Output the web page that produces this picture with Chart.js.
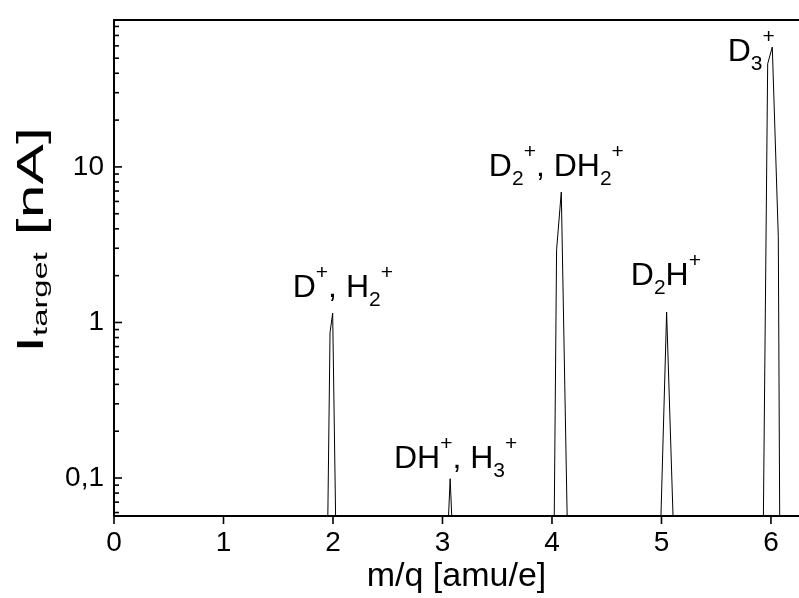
<!DOCTYPE html>
<html><head><meta charset="utf-8">
<script src="https://cdn.jsdelivr.net/npm/chart.js@4.4.1/dist/chart.umd.min.js"></script>
<style>html,body{margin:0;padding:0;background:#fff}canvas{display:block}</style>
</head><body>
<canvas id="c" width="799" height="598"></canvas>
<script>
const FONT = '"Liberation Sans", Arial, Helvetica, sans-serif';

// ---- data ----
const massX = [0.00, 1.952, 1.973, 1.997, 2.025, 3.052, 3.070, 3.088, 4.020, 4.042, 4.085, 4.140,
               4.993, 5.047, 5.108, 5.930, 5.970, 6.012, 6.067, 6.080, 6.26];
const currentNA = [0.01, 0.05, 0.86, 1.15, 0.05, 0.05, 0.099, 0.05, 0.05, 2.93, 6.9, 0.05,
                   0.05, 1.166, 0.05, 0.05, 46, 59, 3.56, 0.05, 0.01];

const xTickValues = [0, 1, 2, 3, 4, 5, 6];
const yTickValues = [0.1, 1, 10];
const yTickText = ['0,1', '1', '10'];

const ionLabels = ['D^+, H_2^+', 'DH^+, H_3^+', 'D_2^+, DH_2^+', 'D_2H^+', 'D_3^+'];
const ionLabelX = [2.09, 3.12, 4.04, 5.04, 5.82];
const ionLabelY = [1.46, 0.116, 8.7, 1.74, 48];

const xTitle = 'm/q [amu/e]';
const yTitle = 'I_{target} [nA]';

const X_MIN = 0, X_MAX = 6.256, Y_MIN = 0.057, Y_MAX = 88;

// parse simple markup: ^x superscript char, _x subscript char, _{...} subscript group
function parseRich(s) {
  const parts = [];
  let i = 0, buf = '';
  const flush = () => { if (buf) { parts.push({t: buf, m: 'n'}); buf = ''; } };
  while (i < s.length) {
    const c = s[i];
    if (c === '^' || c === '_') {
      flush();
      let t;
      if (s[i + 1] === '{') { const j = s.indexOf('}', i); t = s.slice(i + 2, j); i = j + 1; }
      else { t = s[i + 1]; i += 2; }
      parts.push({t, m: c === '^' ? 'sup' : 'sub'});
    } else { buf += c; i++; }
  }
  flush();
  return parts;
}

function drawRich(ctx, s, x, y, size, small, subDy, supDy) {
  const parts = parseRich(s);
  const fontOf = m => (m === 'n' ? size : small) + 'px ' + FONT;
  let w = 0;
  parts.forEach(p => { ctx.font = fontOf(p.m); p.w = ctx.measureText(p.t).width; w += p.w; });
  let cx = x - w / 2;
  ctx.textAlign = 'left';
  ctx.textBaseline = 'alphabetic';
  parts.forEach(p => {
    ctx.font = fontOf(p.m);
    const dy = p.m === 'sup' ? supDy : (p.m === 'sub' ? subDy : 0);
    ctx.fillText(p.t, cx, y + dy);
    cx += p.w;
  });
  return w;
}

const decorPlugin = {
  id: 'decor',
  afterDatasetsDraw(chart) {
    const {ctx, chartArea: a, scales: {x, y}} = chart;
    ctx.save();
    ctx.strokeStyle = '#000';
    ctx.fillStyle = '#000';
    // y ticks (inward), major and minor
    ctx.lineWidth = 1.6;
    for (let e = Math.floor(Math.log10(Y_MIN)); e <= Math.ceil(Math.log10(Y_MAX)); e++) {
      for (let m = 1; m <= 9; m++) {
        const v = m * Math.pow(10, e);
        if (v < Y_MIN || v > Y_MAX) continue;
        const py = y.getPixelForValue(v);
        ctx.beginPath();
        ctx.moveTo(a.left, py);
        ctx.lineTo(a.left + (m === 1 ? 8 : 5), py);
        ctx.stroke();
      }
    }
    // x ticks (outward)
    xTickValues.forEach(v => {
      const px = x.getPixelForValue(v);
      ctx.beginPath();
      ctx.moveTo(px, a.bottom);
      ctx.lineTo(px, a.bottom + 8);
      ctx.stroke();
    });
    // top frame line
    ctx.lineWidth = 2;
    ctx.beginPath();
    ctx.moveTo(a.left - 1, a.top);
    ctx.lineTo(a.right, a.top);
    ctx.stroke();

    // ion labels
    ionLabels.forEach((s, i) => {
      drawRich(ctx, s, x.getPixelForValue(ionLabelX[i]), y.getPixelForValue(ionLabelY[i]), 32, 21, 9, -18);
    });

    // x title
    ctx.font = '34px ' + FONT;
    ctx.textAlign = 'center';
    ctx.textBaseline = 'alphabetic';
    ctx.fillText(xTitle, (a.left + a.right) / 2, a.bottom + 70);

    // y title (rotated, stretched along its reading direction like the original)
    ctx.save();
    ctx.translate(43, 240);
    ctx.rotate(-Math.PI / 2);
    ctx.scale(1.64, 1);
    drawRich(ctx, yTitle, 0, 0, 37, 20, 4, -14);
    ctx.restore();
    ctx.restore();
  }
};

new Chart(document.getElementById('c'), {
  type: 'line',
  data: {
    datasets: [{
      data: massX.map((v, i) => ({x: v, y: currentNA[i]})),
      borderColor: '#000',
      borderWidth: 1,
      pointRadius: 0,
      tension: 0,
      fill: false
    }]
  },
  options: {
    responsive: false,
    animation: false,
    devicePixelRatio: 1,
    layout: {padding: {top: 20, right: 0, left: 0, bottom: 0}},
    plugins: {legend: {display: false}, tooltip: {enabled: false}},
    scales: {
      x: {
        type: 'linear', min: X_MIN, max: X_MAX,
        afterBuildTicks: s => { s.ticks = xTickValues.map(v => ({value: v})); },
        afterFit: s => { s.height = 82; s.paddingLeft = 0; s.paddingRight = 0; },
        grid: {display: false, drawTicks: false},
        border: {display: true, color: '#000', width: 2},
        ticks: {color: '#000', font: {family: FONT, size: 28}, padding: 10, maxRotation: 0, autoSkip: false,
                callback: v => String(v)}
      },
      y: {
        type: 'logarithmic', min: Y_MIN, max: Y_MAX,
        afterBuildTicks: s => { s.ticks = yTickValues.map(v => ({value: v})); },
        afterFit: s => { s.width = 114; s.paddingTop = 0; s.paddingBottom = 0; },
        grid: {display: false, drawTicks: false},
        border: {display: true, color: '#000', width: 2},
        ticks: {color: '#000', font: {family: FONT, size: 28}, padding: 10, autoSkip: false,
                callback: v => { const i = yTickValues.indexOf(v); return i >= 0 ? yTickText[i] : ''; }}
      }
    }
  },
  plugins: [decorPlugin]
});
</script>
</body></html>
